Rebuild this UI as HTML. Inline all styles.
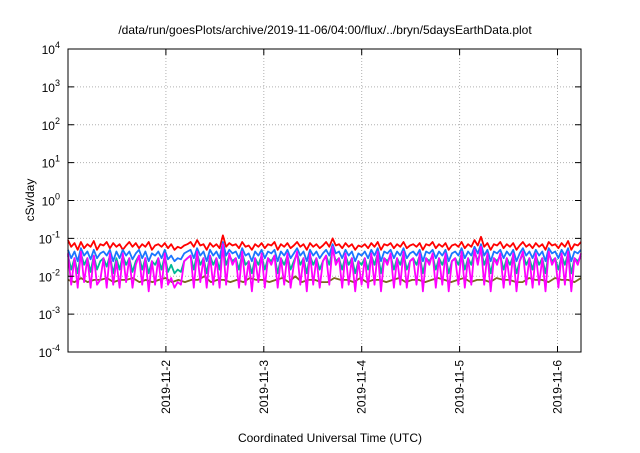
<!DOCTYPE html>
<html><head><meta charset="utf-8"><style>
body{margin:0;background:#fff;font-family:"Liberation Sans",sans-serif}
</style></head><body>
<svg width="640" height="448" viewBox="0 0 640 448" id="svg" font-family="Liberation Sans, sans-serif">
<rect width="640" height="448" fill="#fff"/>
<text x="325" y="34" font-size="12" text-anchor="middle">/data/run/goesPlots/archive/2019-11-06/04:00/flux/../bryn/5daysEarthData.plot</text>
<text transform="translate(34,200) rotate(-90)" font-size="12" text-anchor="middle">cSv/day</text>
<text x="330" y="442" font-size="12" text-anchor="middle">Coordinated Universal Time (UTC)</text>
<g id="grid"></g><g id="series"></g><g id="axes"></g>
</svg>
<script>
const yExp=[-4,-3,-2,-1,0,1,2,3,4];
const xTickDays=[1,2,3,4,5];
const xTickLabels=["2019-11-2","2019-11-3","2019-11-4","2019-11-5","2019-11-6"];
const daySpan=5.24;
const red=[0.09,0.06,0.075,0.05,0.08,0.055,0.07,0.06,0.085,0.05,0.07,0.065,0.08,0.055,0.075,0.06,0.07,0.05,0.065,0.08,0.06,0.075,0.055,0.07,0.06,0.08,0.05,0.065,0.07,0.06,0.075,0.055,0.07,0.05,0.06,0.055,0.065,0.07,0.08,0.06,0.09,0.065,0.07,0.05,0.075,0.06,0.07,0.055,0.12,0.06,0.075,0.065,0.07,0.055,0.08,0.06,0.065,0.05,0.07,0.06,0.075,0.055,0.07,0.065,0.08,0.05,0.07,0.06,0.075,0.055,0.065,0.08,0.06,0.07,0.05,0.075,0.06,0.07,0.055,0.065,0.08,0.06,0.1,0.065,0.07,0.055,0.075,0.06,0.07,0.05,0.065,0.06,0.07,0.055,0.075,0.06,0.08,0.05,0.07,0.065,0.075,0.055,0.07,0.06,0.08,0.055,0.065,0.07,0.06,0.075,0.05,0.07,0.065,0.08,0.055,0.07,0.06,0.075,0.05,0.065,0.07,0.06,0.08,0.055,0.07,0.06,0.09,0.065,0.11,0.06,0.075,0.05,0.07,0.065,0.08,0.055,0.07,0.06,0.075,0.05,0.065,0.08,0.06,0.07,0.055,0.075,0.06,0.07,0.05,0.08,0.065,0.07,0.055,0.075,0.06,0.085,0.05,0.07,0.065,0.08];
const blue=[0.05,0.03,0.045,0.025,0.055,0.035,0.045,0.028,0.05,0.03,0.04,0.045,0.035,0.05,0.025,0.045,0.03,0.05,0.035,0.045,0.028,0.04,0.05,0.03,0.045,0.025,0.04,0.035,0.045,0.03,0.05,0.028,0.035,0.025,0.03,0.028,0.04,0.045,0.05,0.03,0.055,0.035,0.045,0.025,0.05,0.035,0.045,0.03,0.08,0.035,0.05,0.04,0.045,0.03,0.055,0.035,0.04,0.025,0.045,0.035,0.05,0.03,0.045,0.04,0.05,0.025,0.045,0.035,0.05,0.03,0.04,0.055,0.035,0.045,0.025,0.05,0.035,0.045,0.03,0.04,0.05,0.035,0.07,0.04,0.045,0.03,0.05,0.035,0.045,0.025,0.04,0.035,0.045,0.03,0.05,0.035,0.055,0.025,0.045,0.04,0.05,0.03,0.045,0.035,0.055,0.03,0.04,0.045,0.035,0.05,0.025,0.045,0.04,0.05,0.03,0.045,0.035,0.05,0.025,0.04,0.045,0.035,0.055,0.03,0.045,0.035,0.06,0.04,0.07,0.035,0.05,0.025,0.045,0.04,0.05,0.03,0.045,0.035,0.05,0.025,0.04,0.055,0.035,0.045,0.03,0.05,0.035,0.045,0.025,0.055,0.04,0.045,0.03,0.05,0.035,0.055,0.025,0.045,0.04,0.05];
const teal=[0.035,0.015,0.03,0.012,0.04,0.02,0.03,0.013,0.035,0.015,0.025,0.03,0.018,0.035,0.012,0.03,0.015,0.035,0.02,0.03,0.013,0.025,0.035,0.015,0.03,0.012,0.025,0.02,0.03,0.015,0.035,0.013,0.02,0.012,0.015,0.013,0.025,0.03,0.035,0.015,0.04,0.02,0.03,0.012,0.035,0.02,0.03,0.015,0.06,0.02,0.035,0.025,0.03,0.015,0.04,0.02,0.025,0.012,0.03,0.02,0.035,0.015,0.03,0.025,0.035,0.012,0.03,0.02,0.035,0.015,0.025,0.04,0.02,0.03,0.012,0.035,0.02,0.03,0.015,0.025,0.035,0.02,0.05,0.025,0.03,0.015,0.035,0.02,0.03,0.012,0.025,0.02,0.03,0.015,0.035,0.02,0.04,0.012,0.03,0.025,0.035,0.015,0.03,0.02,0.04,0.015,0.025,0.03,0.02,0.035,0.012,0.03,0.025,0.035,0.015,0.03,0.02,0.035,0.012,0.025,0.03,0.02,0.04,0.015,0.03,0.02,0.045,0.025,0.05,0.02,0.035,0.012,0.03,0.025,0.035,0.015,0.03,0.02,0.035,0.012,0.025,0.04,0.02,0.03,0.015,0.035,0.02,0.03,0.012,0.04,0.025,0.03,0.015,0.035,0.02,0.04,0.012,0.03,0.025,0.035];
const olive=[0.008,0.007,0.009,0.007,0.008,0.008,0.009,0.007,0.008,0.008,0.009,0.007,0.008,0.007,0.008,0.009,0.007,0.008,0.007,0.008,0.008,0.01,0.007,0.008,0.008,0.007,0.008,0.007,0.009,0.008,0.008,0.007,0.008,0.009,0.007,0.01,0.007,0.008,0.008,0.007,0.007,0.009,0.008,0.008,0.007,0.009,0.007,0.008,0.008,0.007,0.008,0.009,0.007,0.008,0.008,0.007,0.008,0.009,0.008,0.007,0.008,0.009,0.007,0.008,0.008,0.007,0.009,0.008,0.008,0.007,0.007,0.009,0.008,0.008,0.007,0.009,0.008,0.008,0.007,0.009];
const magenta=[0.04,0.006,0.03,0.005,0.045,0.007,0.03,0.005,0.035,0.006,0.008,0.03,0.005,0.04,0.006,0.025,0.005,0.04,0.007,0.03,0.005,0.02,0.035,0.006,0.03,0.004,0.025,0.006,0.03,0.005,0.04,0.006,0.009,0.005,0.007,0.006,0.025,0.03,0.035,0.005,0.045,0.007,0.03,0.005,0.035,0.006,0.03,0.005,0.07,0.006,0.04,0.02,0.03,0.005,0.045,0.006,0.025,0.004,0.03,0.007,0.04,0.005,0.03,0.02,0.035,0.005,0.03,0.006,0.04,0.005,0.02,0.045,0.006,0.03,0.004,0.04,0.006,0.03,0.005,0.025,0.035,0.006,0.06,0.02,0.03,0.005,0.04,0.006,0.03,0.004,0.025,0.006,0.03,0.005,0.04,0.006,0.045,0.004,0.03,0.02,0.04,0.005,0.03,0.006,0.045,0.005,0.025,0.03,0.006,0.04,0.004,0.03,0.02,0.04,0.005,0.03,0.006,0.04,0.004,0.025,0.03,0.006,0.045,0.005,0.03,0.006,0.05,0.02,0.06,0.006,0.04,0.004,0.03,0.02,0.04,0.005,0.03,0.006,0.04,0.004,0.025,0.045,0.006,0.03,0.005,0.04,0.006,0.03,0.004,0.045,0.02,0.03,0.005,0.04,0.006,0.045,0.004,0.03,0.02,0.04];
const L=68,R=581,T=49,B=352;
const xs=d=>L+d/daySpan*(R-L);
const ys=v=>B-(Math.log10(v)+4)/8*(B-T);
const NS="http://www.w3.org/2000/svg";
function mk(tag,attrs,parent){const e=document.createElementNS(NS,tag);for(const k in attrs)e.setAttribute(k,attrs[k]);parent.appendChild(e);return e;}
const grid=document.getElementById('grid'),axes=document.getElementById('axes'),ser=document.getElementById('series');
yExp.forEach(n=>{const y=ys(Math.pow(10,n));
 if(n>-4&&n<4){const g=mk('line',{x1:L,x2:R,y1:y,y2:y,stroke:'#b0b0b0','stroke-dasharray':'1,2','stroke-width':1},grid);
 }
 const t=mk('text',{x:L-8,y:y+5,'font-size':12,'text-anchor':'end'},axes);
 
 t.textContent='10';const s=mk('tspan',{dy:-6,'font-size':9},t);s.textContent=String(n);
 [[L,L+6],[R,R-6]].forEach(p=>{const tk=mk('line',{x1:p[0],x2:p[1],y1:y,y2:y,stroke:'#000'},axes);
 });
});
xTickDays.forEach((d,i)=>{const x=xs(d);
 const g=mk('line',{x1:x,x2:x,y1:T,y2:B,stroke:'#b0b0b0','stroke-dasharray':'1,2'},grid);
 
 [[B,B-6],[T,T+6]].forEach(p=>{const tk=mk('line',{x1:x,x2:x,y1:p[0],y2:p[1],stroke:'#000'},axes);
 });
 const t=mk('text',{transform:`translate(${x+4},360) rotate(-90)`,'font-size':12,'text-anchor':'end'},axes);
 
 t.textContent=xTickLabels[i];
});
const fr=mk('rect',{x:L,y:T,width:R-L,height:B-T,fill:'none',stroke:'#000','stroke-width':1},axes);

[[olive,'#7a6a20','series-olive'],[teal,'#00b894','series-teal'],[red,'#ff0000','series-red'],[blue,'#1a75ff','series-blue'],[magenta,'#ff00ff','series-magenta']].forEach(s=>{
 const arr=s[0];const pts=arr.map((v,i)=>xs(i*daySpan/(arr.length-1)).toFixed(1)+','+ys(v).toFixed(1)).join(' ');
 const p=mk('polyline',{points:pts,fill:'none',stroke:s[1],'stroke-width':1.8,'stroke-linejoin':'round'},ser);
 
});
</script>
</body></html>
